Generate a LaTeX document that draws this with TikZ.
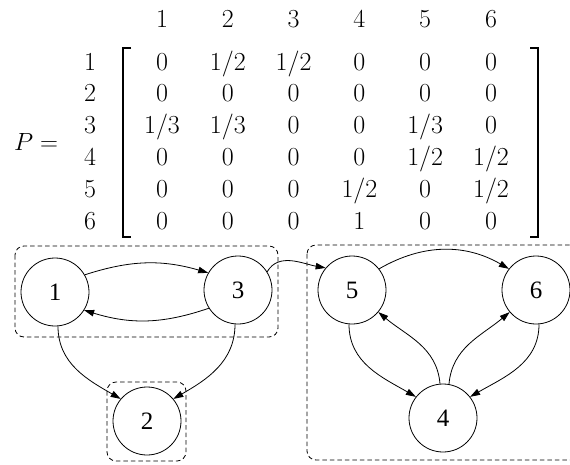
\documentclass[tikz,border=0pt]{standalone}
\usepackage{fontspec}
\newfontfamily\labelfont{Liberation Serif}
\usetikzlibrary{arrows.meta}
\begin{document}
\begin{tikzpicture}[x=1pt,y=-1pt,
  entry/.style={inner sep=0pt,anchor=base,font=\fontsize{26}{30}\selectfont},
  state/.style={circle,draw,line width=0.8pt,minimum size=68pt,inner sep=0pt,
    font=\fontsize{25}{30}\selectfont\labelfont},
  edge/.style={line width=0.8pt,-{Triangle[length=10pt,width=6.5pt]}},
  group/.style={draw,line width=0.8pt,dash pattern=on 4.5pt off 3pt,rounded corners=9pt},
  brk/.style={line width=1.3pt}]
\useasboundingbox (0,0) rectangle (570,464);

% column headings
\foreach \c in {1,...,6}
  \node[entry] (h\c) at ({162+65.8*(\c-1)},27) {\c};
% row headings
\foreach \r in {1,...,6}
  \node[entry] (r\r) at (90,{70+31.8*(\r-1)}) {\r};
% transition probabilities
\foreach \v [count=\i] in {0,1/2,1/2,0,0,0, 0,0,0,0,0,0, 1/3,1/3,0,0,1/3,0,
                           0,0,0,0,1/2,1/2, 0,0,0,1/2,0,1/2, 0,0,0,1,0,0}{
  \pgfmathtruncatemacro\r{div(\i-1,6)+1}
  \pgfmathtruncatemacro\c{mod(\i-1,6)+1}
  \node[entry] (m\r\c) at ({162+65.8*(\c-1)},{70+31.8*(\r-1)}) {\v};
}
\node[entry,anchor=base west] (P) at (14,150) {$P =$};
% brackets
\draw[brk] (131,48) -- (123,48) -- (123,237) -- (131,237);
\draw[brk] (530,48) -- (538,48) -- (538,237) -- (530,237);

% groups of states
\draw[group] (15,246) rectangle (278,337);
\draw[group] (107,382) rectangle (186,461);
\draw[group] (307,245) rectangle (590,460);

% states
\node[state] (n1) at (55,292) {1};
\node[state] (n3) at (238,290) {3};
\node[state] (n2) at (147,421) {2};
\node[state] (n5) at (352,290) {5};
\node[state] (n6) at (536,290) {6};
\node[state] (n4) at (443,418) {4};

% transitions
\draw[edge] (n1.30) to[bend left=17] (n3.150);
\draw[edge] (n3.212) to[bend left=18] (n1.328);
\draw[edge] (n1.-85) to[out=-90,in=150] (n2.140);
\draw[edge] (n3.-95) to[out=-90,in=30] (n2.40);
\draw[edge] (n3.32) to[out=60,in=170] (n5.140);
\draw[edge] (n5.38) to[bend left=30] (n6.142);
\draw[edge] (n5.-95) to[out=-90,in=150] (n4.142);
\draw[edge] (n4.95) to[out=95,in=-40] (n5.-40);
\draw[edge] (n4.80) to[out=85,in=220] (n6.220);
\draw[edge] (n6.-85) to[out=-90,in=30] (n4.38);
\end{tikzpicture}
\end{document}
